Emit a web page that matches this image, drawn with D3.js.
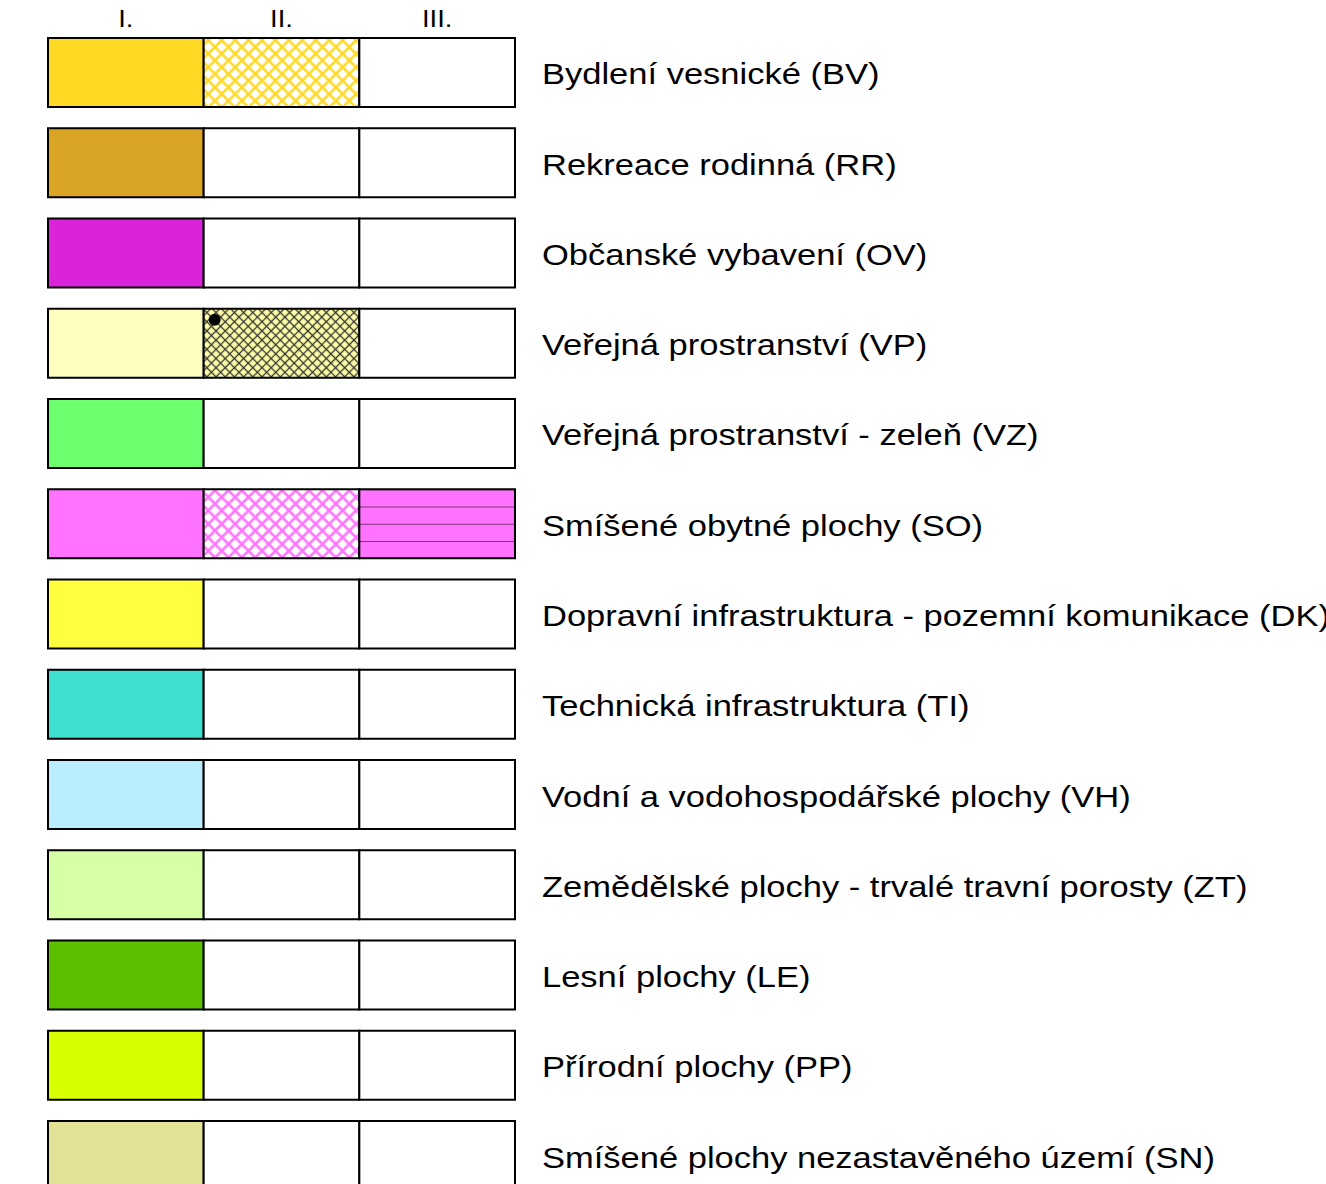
<!DOCTYPE html>
<html>
<head>
<meta charset="utf-8">
<script src="https://cdn.jsdelivr.net/npm/d3@7"></script>
<style>
  html, body { margin: 0; padding: 0; background: #fff; overflow: hidden; }
</style>
</head>
<body>
<div id="legend"></div>
<script>
// Stages (column headers)
var stages = ["I.", "II.", "III."];

// Row labels
var labels = [
    "Bydlení vesnické (BV)",
    "Rekreace rodinná (RR)",
    "Občanské vybavení (OV)",
    "Veřejná prostranství (VP)",
    "Veřejná prostranství - zeleň (VZ)",
    "Smíšené obytné plochy (SO)",
    "Dopravní infrastruktura - pozemní komunikace (DK)",
    "Technická infrastruktura (TI)",
    "Vodní a vodohospodářské plochy (VH)",
    "Zemědělské plochy - trvalé travní porosty (ZT)",
    "Lesní plochy (LE)",
    "Přírodní plochy (PP)",
    "Smíšené plochy nezastavěného území (SN)"
];

// Fill of each stage per row ("none" = empty box, "p:" = pattern id)
var stageI   = ["#ffd924", "#daa425", "#da24da", "#ffffc0", "#6eff6e", "#ff73ff", "#ffff40",
                "#40e0d0", "#baeeff", "#d6ffa6", "#5cbf00", "#d8ff00", "#e3e397"];
var stageII  = ["p:cross-yellow", "none", "none", "p:cross-black", "none", "p:cross-pink", "none",
                "none", "none", "none", "none", "none", "none"];
var stageIII = ["none", "none", "none", "none", "none", "p:lines-pink", "none",
                "none", "none", "none", "none", "none", "none"];

// Rows carrying a point symbol in stage II
var dotRows = ["Veřejná prostranství (VP)"];

///////////////////////////////////////////////////////////////////////////
///////////////////////////// Set up the SVG //////////////////////////////
///////////////////////////////////////////////////////////////////////////

var width = 1326,
    height = 1184,
    stretch = 1.19;   // the source text is drawn wider than plain Arial

var svg = d3.select("#legend")
    .append("svg")
        .attr("width", width)
        .attr("height", height)
        .style("font-family", "'Liberation Sans', Arial, sans-serif");

var x = d3.scaleBand()
    .domain(stages)
    .range([48, 515])
    .padding(0);

var y = d3.scaleBand()
    .domain(labels)
    .range([38, 1190])
    .paddingInner(0.2355)
    .paddingOuter(0);

///////////////////////////////////////////////////////////////////////////
//////////////////////////////// Patterns /////////////////////////////////
///////////////////////////////////////////////////////////////////////////

var defs = svg.append("defs");

function crossHatch(id, bg, stroke, size, sw) {
    var p = defs.append("pattern")
        .attr("id", id)
        .attr("patternUnits", "userSpaceOnUse")
        .attr("width", size)
        .attr("height", size)
        .attr("patternTransform", "rotate(45)");
    p.append("rect")
        .attr("width", size)
        .attr("height", size)
        .attr("fill", bg);
    p.append("line")
        .attr("x1", 0).attr("y1", size / 2)
        .attr("x2", size).attr("y2", size / 2)
        .attr("stroke", stroke).attr("stroke-width", sw);
    p.append("line")
        .attr("x1", size / 2).attr("y1", 0)
        .attr("x2", size / 2).attr("y2", size)
        .attr("stroke", stroke).attr("stroke-width", sw);
}

crossHatch("cross-yellow", "#fff", "#ffd924", 9.5, 2.6);
crossHatch("cross-black", "#ffffa8", "#333", 6.5, 1.3);
crossHatch("cross-pink", "#fff", "#ff73ff", 9.5, 2.6);

// Horizontal lines, four strips per box
var bh = y.bandwidth();
var lp = defs.append("pattern")
    .attr("id", "lines-pink")
    .attr("patternUnits", "userSpaceOnUse")
    .attr("width", 20)
    .attr("height", bh / 4)
    .attr("y", y(labels[5]));
lp.append("rect")
    .attr("width", 20)
    .attr("height", bh / 4)
    .attr("fill", "#ff73ff");
lp.append("line")
    .attr("x1", 0).attr("y1", 0)
    .attr("x2", 20).attr("y2", 0)
    .attr("stroke", "#7a327a")
    .attr("stroke-width", 2);

function fillOf(v) {
    if (v === "none") return "#fff";
    if (v.indexOf("p:") === 0) return "url(#" + v.slice(2) + ")";
    return v;
}

///////////////////////////////////////////////////////////////////////////
/////////////////////////////// Column heads //////////////////////////////
///////////////////////////////////////////////////////////////////////////

svg.append("g")
    .selectAll("text")
    .data(stages)
    .enter()
    .append("text")
        .attr("transform", d => "translate(" + (x(d) + x.bandwidth() / 2) + ",27) scale(" + stretch + ",1)")
        .attr("text-anchor", "middle")
        .style("font-size", "23px")
        .text(d => d);

///////////////////////////////////////////////////////////////////////////
////////////////////////////////// Rows ///////////////////////////////////
///////////////////////////////////////////////////////////////////////////

var cells = [];
labels.forEach(function(l, i) {
    cells.push({ row: l, stage: stages[0], fill: stageI[i] });
    cells.push({ row: l, stage: stages[1], fill: stageII[i] });
    cells.push({ row: l, stage: stages[2], fill: stageIII[i] });
});

svg.append("g")
    .selectAll("rect")
    .data(cells)
    .enter()
    .append("rect")
        .attr("x", d => x(d.stage))
        .attr("y", d => y(d.row))
        .attr("width", x.bandwidth())
        .attr("height", y.bandwidth())
        .attr("fill", d => fillOf(d.fill))
        .attr("stroke", "#000")
        .attr("stroke-width", 2);

// Point symbol
svg.append("g")
    .selectAll("circle")
    .data(dotRows)
    .enter()
    .append("circle")
        .attr("cx", x(stages[1]) + 11)
        .attr("cy", d => y(d) + 11)
        .attr("r", 6)
        .attr("fill", "#000");

// Labels
svg.append("g")
    .selectAll("text")
    .data(labels)
    .enter()
    .append("text")
        .attr("transform", d => "translate(542," + (y(d) + y.bandwidth() / 2 + 12) + ") scale(" + stretch + ",1)")
        .style("font-size", "29px")
        .attr("fill", "#000")
        .text(d => d);
</script>
</body>
</html>
